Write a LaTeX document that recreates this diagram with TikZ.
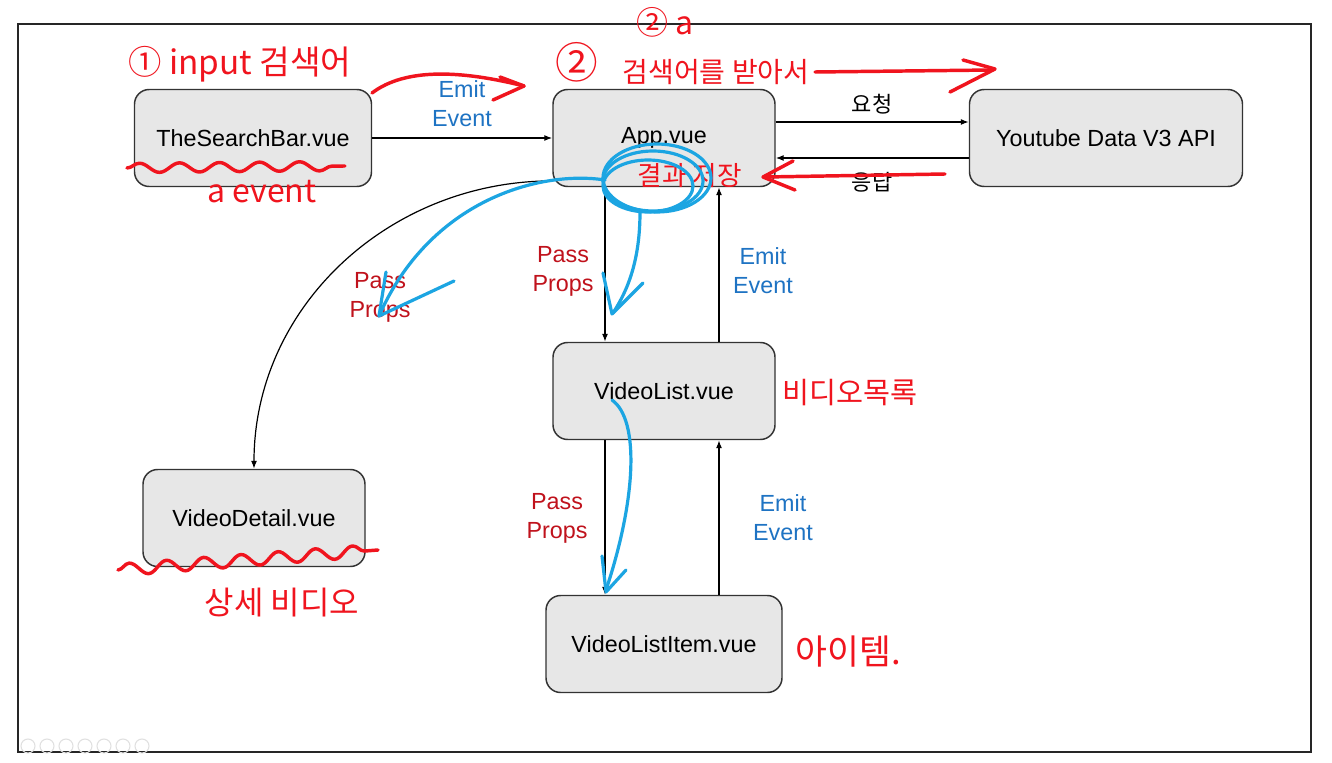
\documentclass[tikz,border=0pt]{standalone}
\usepackage{fontspec}
\setmainfont{Liberation Sans}
\newfontfamily\hangul{Noto Sans CJK KR}
\usetikzlibrary{arrows.meta,decorations.pathmorphing}

\definecolor{boxfill}{HTML}{E7E7E7}
\definecolor{emitcol}{HTML}{1E73C3}
\definecolor{passcol}{HTML}{C0121C}
\definecolor{penred}{HTML}{F0141E}
\definecolor{penblue}{HTML}{1CA5E2}

\begin{document}
\begin{tikzpicture}[x=0.75pt, y=-0.75pt,
	comp/.style={rectangle, rounded corners=11pt, draw=black!80, fill=boxfill, line width=1.1pt, minimum height=72.75pt, font=\fontsize{17.5}{21}\selectfont},
	flow/.style={draw=black, line width=0.9pt, -{Latex[length=6pt, width=4.5pt]}},
	emit/.style={align=center, text=emitcol, font=\fontsize{17.5}{21.75}\selectfont},
	pass/.style={align=center, text=passcol, font=\fontsize{17.5}{21.75}\selectfont},
	ko/.style={font=\hangul\fontsize{16.5}{19}\selectfont},
	redpen/.style={draw=penred, line width=2.6pt, line cap=round, line join=round},
	bluepen/.style={draw=penblue, line width=2.4pt, line cap=round, line join=round},
	scrawl/.style={text=penred, font=\hangul\fontsize{#1}{#1}\selectfont}]
				\fill[white] (0,0) rectangle (1332,763);
				\useasboundingbox (0,0) rectangle (1332,763);
				\draw[black!85, line width=1.1pt] (18,24) rectangle (1311,752);
				\foreach \i in {0,...,6}
					\draw[black!12, line width=0.8pt] (28+19*\i,746) circle [radius=7];
				
				% components
				\node[comp, minimum width=177.75pt] (search) at (253,138) {TheSearchBar.vue};
				\node[comp, minimum width=166.5pt] (app) at (664,138) {App.vue};
				\node[comp, minimum width=204.75pt] (api) at (1106,138) {Youtube Data V3 API};
				\node[comp, minimum width=166.5pt] (vlist) at (664,391) {VideoList.vue};
				\node[comp, minimum width=166.5pt] (detail) at (254,518) {VideoDetail.vue};
				\node[comp, minimum width=177pt] (item) at (664,644) {VideoListItem.vue};
				
				\path (search) edge[flow] (app);
				\path ([yshift=12pt]app.east) edge[flow] ([yshift=12pt]api.west);
				\path ([yshift=-15pt]api.west) edge[flow] ([yshift=-15pt]app.east);
				\path ([xshift=-44.25pt]app.south) edge[flow] ([xshift=-44.25pt]vlist.north);
				\path ([xshift=41.25pt]vlist.north) edge[flow] ([xshift=41.25pt]app.south);
				\path ([xshift=-44.25pt]vlist.south) edge[flow] ([xshift=-44.25pt]item.north);
				\path ([xshift=41.25pt]item.north) edge[flow] ([xshift=41.25pt]vlist.south);
				\path (app.201) edge[flow, out=180, in=90] (detail.north);
				
				% labels
				\node[emit] (emitA) at (462,104) {Emit\\Event};
				\node[ko] (req) at (872,104) {요청};
				\node[ko] (resp) at (872,182) {응답};
				\node[pass] (passA) at (563,271) {Pass\\Props};
				\node[emit] (emitB) at (763,271) {Emit\\Event};
				\node[pass] (passB) at (380,297) {Pass\\Props};
				\node[pass] (passC) at (557,518) {Pass\\Props};
				\node[emit] (emitC) at (783,518) {Emit\\Event};
				
				% pen notes
				\node[scrawl=25] (noteA) at (240,64) {① input 검색어};
				\node[scrawl=32] (noteB) at (577,62) {②};
				\node[scrawl=24] (noteC) at (665,22) {② a};
				\node[scrawl=21] (noteD) at (716,72) {검색어를 받아서};
				\node[scrawl=20] (noteE) at (690,176) {결과 저장};
				\node[scrawl=24] (noteF) at (262,192) {a event};
				\node[scrawl=22] (noteG) at (850,393) {비디오목록};
				\node[scrawl=24] (noteH) at (282,603) {상세 비디오};
				\node[scrawl=26] (noteI) at (848,652) {아이템.};
				
				\draw[redpen] (372,93) .. controls (405,68) and (460,70) .. (524,86);
				\draw[redpen] (500,77) -- (524,86) -- (493,100);
				\draw[redpen] (815,72) -- (993,70);
				\draw[redpen] (963,60) -- (995,69) -- (950,92);
				\draw[redpen] (945,174) -- (765,177);
				\draw[redpen] (793,161) -- (763,177) -- (795,190);
				\draw[redpen, decorate, decoration={snake, amplitude=3.5pt, segment length=30pt}] (127,168) -- (345,166);
				\draw[redpen, decorate, decoration={snake, amplitude=4.5pt, segment length=28pt}] (118,570) -- (378,550);
				
				\draw[bluepen] (653,181) ellipse [x radius=50, y radius=30];
				\draw[bluepen] (648,186) ellipse [x radius=45, y radius=26];
				\draw[bluepen] (657,178) ellipse [x radius=54, y radius=34];
				\draw[bluepen] (605,180) .. controls (540,170) and (430,200) .. (379,316);
				\draw[bluepen] (386,272) -- (379,316) -- (454,281);
				\draw[bluepen] (640,212) .. controls (640,260) and (628,290) .. (613,313);
				\draw[bluepen] (603,273) -- (612,314) -- (643,283);
				\draw[bluepen] (612,400) .. controls (640,420) and (636,500) .. (606,590);
				\draw[bluepen] (602,556) -- (606,592) -- (626,570);
				\end{tikzpicture}
\end{document}
